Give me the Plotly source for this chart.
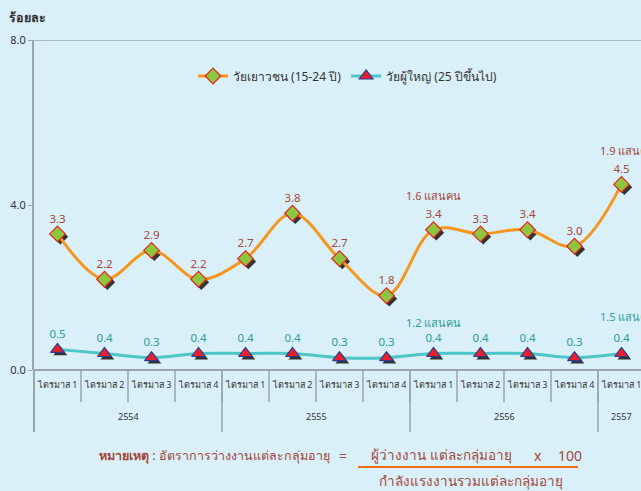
import plotly.graph_objects as go

quarters = ["ไตรมาส 1", "ไตรมาส 2", "ไตรมาส 3", "ไตรมาส 4",
            "ไตรมาส 1", "ไตรมาส 2", "ไตรมาส 3", "ไตรมาส 4",
            "ไตรมาส 1", "ไตรมาส 2", "ไตรมาส 3", "ไตรมาส 4",
            "ไตรมาส 1"]
years = ["2554", "2555", "2556", "2557"]
year_counts = [4, 4, 4, 1]
youth = [3.3, 2.2, 2.9, 2.2, 2.7, 3.8, 2.7, 1.8, 3.4, 3.3, 3.4, 3.0, 4.5]
adult = [0.5, 0.4, 0.3, 0.4, 0.4, 0.4, 0.3, 0.3, 0.4, 0.4, 0.4, 0.3, 0.4]
youth_name = "วัยเยาวชน (15-24 ปี)"
adult_name = "วัยผู้ใหญ่ (25 ปีขึ้นไป)"
callouts_youth = {8: "1.6 แสนคน", 12: "1.9 แสนคน"}
callouts_adult = {8: "1.2 แสนคน", 12: "1.5 แสนคน"}

FONT = "Tahoma, 'Noto Sans', 'DejaVu Sans', sans-serif"
BG = "#DAF0F8"
BROWN = "#A4463A"
TEAL = "#2A9D9D"
ORANGE = "#F7961E"
LTEAL = "#4CC6C6"

W, H = 641, 491
L, T, R, B = 34, 40, 0, 121
pw, ph = W - L - R, H - T - B
def px(x):
    return (x - L) / pw
def py(y):
    return (H - B - y) / ph

xs = list(range(len(quarters)))
cat_w = 47
xmax = -0.5 + pw / cat_w

fig = go.Figure()

# marker shadows
fig.add_trace(go.Scatter(x=[v + 0.06 for v in xs], y=[v - 0.07 for v in youth], mode="markers",
                         marker=dict(symbol="diamond", size=12, color="#333333"),
                         showlegend=False, hoverinfo="skip"))
fig.add_trace(go.Scatter(x=[v + 0.06 for v in xs], y=[v - 0.07 for v in adult], mode="markers",
                         marker=dict(symbol="triangle-up", size=12, color="#333333"),
                         showlegend=False, hoverinfo="skip"))

fig.add_trace(go.Scatter(
    x=xs, y=youth, name=youth_name, mode="lines+markers+text",
    line=dict(color=ORANGE, width=3, shape="spline", smoothing=1.0),
    marker=dict(symbol="diamond", size=12, color="#8DC63F", line=dict(color="#E8231E", width=1.2)),
    text=[f"{v:.1f}" for v in youth], textposition="top center",
    textfont=dict(family=FONT, size=11.5, color=BROWN), cliponaxis=False))
fig.add_trace(go.Scatter(
    x=xs, y=adult, name=adult_name, mode="lines+markers+text",
    line=dict(color=LTEAL, width=3, shape="spline", smoothing=1.0),
    marker=dict(symbol="triangle-up", size=12, color="#E8202A", line=dict(color="#2B3990", width=1.2)),
    text=[f"{v:.1f}" for v in adult], textposition="top center",
    textfont=dict(family=FONT, size=11.5, color=TEAL), cliponaxis=False))

ann = []
for i, t in callouts_youth.items():
    ann.append(dict(x=i, y=youth[i], xref="x", yref="y", text=t, showarrow=False, yshift=34,
                    xanchor="left" if i == xs[-1] else "center", xshift=-24 if i == xs[-1] else 0,
                    font=dict(family=FONT, size=11, color=BROWN)))
for i, t in callouts_adult.items():
    ann.append(dict(x=i, y=adult[i], xref="x", yref="y", text=t, showarrow=False,
                    yshift=31 if i != xs[-1] else 37,
                    xanchor="left" if i == xs[-1] else "center", xshift=-24 if i == xs[-1] else 0,
                    font=dict(family=FONT, size=11, color=TEAL)))

shapes = []
# top border line at 8.0
shapes.append(dict(type="line", xref="paper", yref="y", x0=0, x1=1, y0=8, y1=8,
                   line=dict(color="#9AA4AA", width=1.5)))
# extended y-axis line below 0
shapes.append(dict(type="line", xref="paper", yref="paper", x0=0, x1=0, y0=0, y1=py(432),
                   line=dict(color="#9AA4AA", width=2)))
# quarter labels and dividers
for i, q in enumerate(quarters):
    ann.append(dict(x=i, y=py(393), xref="x", yref="paper", text=q, showarrow=False,
                    font=dict(family=FONT, size=9, color="#333333")))
    shapes.append(dict(type="line", xref="x", yref="paper", x0=i + 0.5, x1=i + 0.5,
                       y0=0, y1=py(402), line=dict(color="#9AA4AA", width=1.5)))
# year labels and dividers
start = 0
for yname, cnt in zip(years, year_counts):
    end = start + cnt
    ann.append(dict(x=(start + end - 1) / 2, y=py(425), xref="x", yref="paper", text=yname,
                    showarrow=False, font=dict(family=FONT, size=9, color="#333333")))
    shapes.append(dict(type="line", xref="x", yref="paper", x0=end - 0.5, x1=end - 0.5,
                       y0=0, y1=py(432), line=dict(color="#9AA4AA", width=1.5)))
    start = end

# axis title
ann.append(dict(x=px(7), y=py(17), xref="paper", yref="paper", text="<b>ร้อยละ</b>", showarrow=False,
                xanchor="left", yanchor="middle", font=dict(family=FONT, size=12.5, color="#333333")))

# note / formula
ann.append(dict(x=px(97), y=py(455), xref="paper", yref="paper",
                text="<b>หมายเหตุ</b> : อัตราการว่างงานแต่ละกลุ่มอายุ",
                showarrow=False, xanchor="left", yanchor="middle",
                font=dict(family=FONT, size=12.5, color=BROWN)))
ann.append(dict(x=px(343), y=py(455), xref="paper", yref="paper", text="=",
                showarrow=False, xanchor="center", yanchor="middle",
                font=dict(family=FONT, size=14, color=BROWN)))
ann.append(dict(x=px(441), y=py(455), xref="paper", yref="paper",
                text="ผู้ว่างงาน แต่ละกลุ่มอายุ",
                showarrow=False, xanchor="center", yanchor="middle",
                font=dict(family=FONT, size=13.5, color=BROWN)))
ann.append(dict(x=px(538), y=py(455), xref="paper", yref="paper", text="x",
                showarrow=False, xanchor="center", yanchor="middle",
                font=dict(family=FONT, size=14, color=BROWN)))
ann.append(dict(x=px(570), y=py(455), xref="paper", yref="paper", text="100",
                showarrow=False, xanchor="center", yanchor="middle",
                font=dict(family=FONT, size=14, color=BROWN)))
ann.append(dict(x=px(471), y=py(481), xref="paper", yref="paper",
                text="กำลังแรงงานรวมแต่ละกลุ่มอายุ",
                showarrow=False, xanchor="center", yanchor="middle",
                font=dict(family=FONT, size=13.5, color=BROWN)))
shapes.append(dict(type="line", xref="paper", yref="paper", x0=px(358), x1=px(578),
                   y0=py(467), y1=py(467), line=dict(color="#F26B21", width=2)))

fig.update_layout(
    width=W, height=H,
    margin=dict(l=L, r=R, t=T, b=B, pad=0),
    paper_bgcolor=BG, plot_bgcolor=BG,
    font=dict(family=FONT, color="#333333"),
    showlegend=True,
    legend=dict(orientation="h", x=px(193), y=py(76), xanchor="left", yanchor="middle",
                bgcolor="rgba(0,0,0,0)", font=dict(family=FONT, size=12), itemwidth=30,
                traceorder="normal"),
    xaxis=dict(range=[-0.5, xmax], showgrid=False, zeroline=False, showticklabels=False,
               ticks="", showline=False, fixedrange=True),
    yaxis=dict(range=[0, 8], tickvals=[0, 4, 8], ticktext=["0.0", "4.0", "8.0"],
               showgrid=False, zeroline=True, zerolinecolor="#9AA4AA", zerolinewidth=1.5,
               showline=True, linecolor="#9AA4AA", linewidth=2, ticks="outside", ticklen=4,
               tickcolor="#9AA4AA", tickfont=dict(family=FONT, size=11, color="#333333")),
    annotations=ann, shapes=shapes,
)

fig.write_html("out.html", config={"displayModeBar": False},
               post_script="document.body.style.margin='0';document.body.style.background='%s';" % BG)
